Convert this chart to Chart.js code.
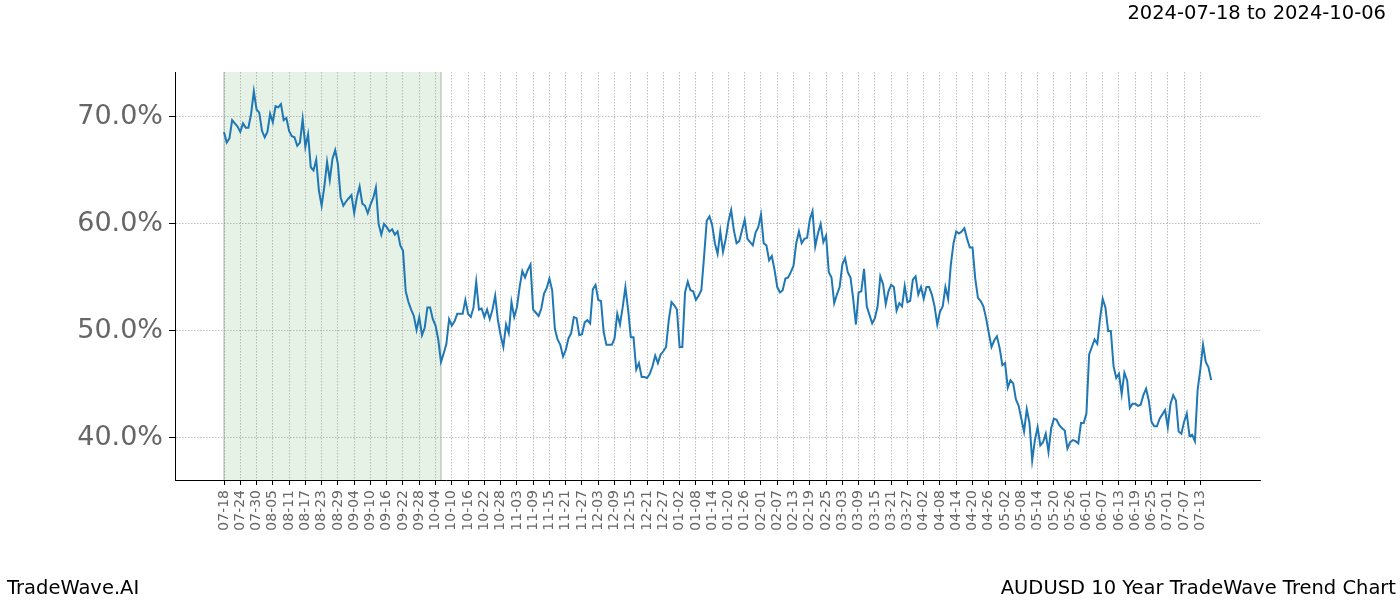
<!DOCTYPE html>
<html>
<head>
<meta charset="utf-8">
<script src="https://cdn.jsdelivr.net/npm/chart.js@4.4.1/dist/chart.umd.min.js"></script>
<style>
html,body{margin:0;padding:0;background:#ffffff;}
canvas{display:block;}
</style>
</head>
<body>
<canvas id="chart" width="1400" height="600"></canvas>
<script>
// ---- Data ----
// x = day offset from 2024-07-18, one value per calendar day
const tickDays = [0,6,12,18,24,30,36,42,48,54,60,66,72,78,84,90,96,102,108,114,120,126,132,138,144,150,156,162,168,174,180,186,192,198,204,210,216,222,228,234,240,246,252,258,264,270,276,282,288,294,300,306,312,318,324,330,336,342,348,354,360];
const tickLabels = ['07-18','07-24','07-30','08-05','08-11','08-17','08-23','08-29','09-04','09-10','09-16','09-22','09-28','10-04','10-10','10-16','10-22','10-28','11-03','11-09','11-15','11-21','11-27','12-03','12-09','12-15','12-21','12-27','01-02','01-08','01-14','01-20','01-26','02-01','02-07','02-13','02-19','02-25','03-03','03-09','03-15','03-21','03-27','04-02','04-08','04-14','04-20','04-26','05-02','05-08','05-14','05-20','05-26','06-01','06-07','06-13','06-19','06-25','07-01','07-07','07-13'];
const yTicks = [40, 50, 60, 70];

const trendValues = [
  68.6,67.6,68.0,69.7,69.4,69.1,68.6,69.4,69.0,69.0,
  70.3,72.4,70.7,70.4,68.7,68.1,68.6,70.3,69.5,71.0,
  70.9,71.2,69.7,69.9,68.7,68.2,68.1,67.3,67.6,69.8,
  67.2,68.4,65.3,65.0,66.0,63.1,61.7,63.5,65.8,64.1,
  66.1,66.9,65.6,62.5,61.7,62.1,62.4,62.7,61.0,62.5,
  63.5,61.9,61.7,61.0,61.8,62.4,63.4,60.0,59.0,60.0,
  59.7,59.3,59.5,59.0,59.3,58.0,57.5,53.7,52.7,52.0,
  51.4,50.1,51.3,49.6,50.3,52.2,52.2,51.1,50.5,49.2,
  47.1,47.9,48.8,51.1,50.5,50.9,51.6,51.6,51.6,52.9,
  51.6,51.3,52.2,54.6,52.0,52.1,51.3,52.0,51.1,52.0,
  53.3,51.0,49.6,48.5,50.6,49.8,52.7,51.3,52.2,54.1,
  55.6,55.0,55.7,56.2,52.0,51.7,51.4,52.1,53.5,54.0,
  54.9,53.8,50.2,49.2,48.7,47.6,48.2,49.3,49.8,51.3,
  51.2,49.6,49.7,50.8,51.0,50.7,53.9,54.3,52.9,52.8,
  49.9,48.7,48.7,48.7,49.3,51.6,50.6,52.2,54.1,52.0,
  49.4,49.4,46.4,47.0,45.7,45.7,45.6,46.0,46.7,47.7,
  47.0,47.8,48.1,48.5,51.0,52.7,52.4,52.0,48.5,48.5,
  53.6,54.6,53.8,53.7,52.9,53.3,53.8,56.9,60.3,60.7,
  59.9,58.2,57.2,59.3,57.4,58.6,60.2,61.3,59.4,58.2,
  58.4,59.4,60.4,58.6,58.3,58.0,59.2,59.7,60.9,58.2,
  58.0,56.6,57.0,55.7,54.1,53.6,53.8,54.9,55.0,55.5,
  56.1,58.2,59.3,58.2,58.6,58.7,60.4,61.2,57.9,59.1,
  60.0,58.3,58.9,55.5,55.0,52.6,53.4,54.1,56.2,56.8,
  55.5,55.0,53.0,50.6,53.6,53.7,55.8,52.3,51.5,50.7,
  51.2,52.3,55.1,54.4,52.5,53.7,54.3,54.1,51.9,52.6,
  52.3,54.2,52.7,52.8,54.8,55.1,53.4,54.1,53.0,54.1,
  54.1,53.4,52.3,50.6,51.8,52.3,54.1,53.0,56.2,58.2,
  59.3,59.1,59.3,59.6,58.6,57.8,57.8,54.9,53.1,52.8,
  52.3,51.2,49.8,48.5,49.1,49.5,48.4,46.8,47.0,44.7,
  45.4,45.1,43.6,43.0,41.8,40.6,42.7,41.4,37.9,39.8,
  41.0,39.3,39.6,40.4,38.7,40.9,41.8,41.7,41.2,40.9,
  40.7,39.0,39.6,39.8,39.7,39.5,41.4,41.4,42.3,47.8,
  48.5,49.2,48.8,51.1,53.0,52.2,50.0,50.0,46.7,45.6,
  46.0,44.1,46.1,45.4,42.8,43.2,43.2,43.0,43.1,44.0,
  44.6,43.5,41.5,41.1,41.1,41.8,42.2,42.6,41.0,43.2,
  44.0,43.5,40.6,40.4,41.5,42.3,40.2,40.3,39.7,44.5,
  46.4,48.7,47.1,46.6,45.4
];

const highlightStartDay = 0;   // 2024-07-18
const highlightEndDay = 80;    // 2024-10-06
const titleText = '2024-07-18 to 2024-10-06';
const footerLeft = 'TradeWave.AI';
const footerRight = 'AUDUSD 10 Year TradeWave Trend Chart';

const FONT = '"DejaVu Sans", "Liberation Sans", sans-serif';

const highlightPlugin = {
  id: 'highlight',
  beforeDraw(chart) {
    const {ctx, chartArea, scales} = chart;
    const x0 = scales.x.getPixelForValue(highlightStartDay);
    const x1 = scales.x.getPixelForValue(highlightEndDay);
    ctx.save();
    ctx.fillStyle = 'rgba(0,128,0,0.1)';
    ctx.fillRect(x0, chartArea.top, x1 - x0, chartArea.bottom - chartArea.top);
    ctx.strokeStyle = 'rgba(90,120,90,0.25)';
    ctx.lineWidth = 2;
    ctx.beginPath();
    ctx.moveTo(x0, chartArea.top); ctx.lineTo(x0, chartArea.bottom);
    ctx.moveTo(x1, chartArea.top); ctx.lineTo(x1, chartArea.bottom);
    ctx.stroke();
    ctx.restore();
  }
};

const textPlugin = {
  id: 'texts',
  afterDraw(chart) {
    const ctx = chart.ctx;
    ctx.save();
    ctx.fillStyle = '#000';
    ctx.font = '19.5px ' + FONT;
    ctx.textBaseline = 'alphabetic';
    ctx.textAlign = 'right';
    ctx.fillText(titleText, 1386, 19);
    ctx.textAlign = 'left';
    ctx.fillText(footerLeft, 7, 594);
    ctx.textAlign = 'right';
    ctx.fillText(footerRight, 1396, 594);
    ctx.restore();
  }
};

new Chart(document.getElementById('chart'), {
  type: 'line',
  data: {
    datasets: [{
      data: trendValues.map((v, i) => ({x: i, y: v})),
      borderColor: '#1f77b4',
      borderWidth: 2,
      pointRadius: 0,
      tension: 0,
      fill: false
    }]
  },
  options: {
    responsive: false,
    animation: false,
    devicePixelRatio: 1,
    layout: {padding: {top: 72, right: 140, left: 0, bottom: 0}},
    plugins: {legend: {display: false}, tooltip: {enabled: false}},
    scales: {
      x: {
        type: 'linear',
        min: -18.07,
        max: 382,
        afterBuildTicks: (scale) => { scale.ticks = tickDays.map(v => ({value: v})); },
        afterFit: (scale) => { scale.height = 120; },
        ticks: {
          autoSkip: false,
          maxRotation: 90,
          minRotation: 90,
          padding: 5,
          color: '#666',
          font: {family: FONT, size: 14},
          callback: (value, index) => tickLabels[index]
        },
        grid: {
          color: 'rgba(150,150,150,0.75)',
          lineWidth: 0.8,
          drawTicks: true,
          tickLength: 5,
          tickColor: '#000',
          tickWidth: 1
        },
        border: {display: true, color: '#000', width: 1, dash: [1.5, 1.5]}
      },
      y: {
        type: 'linear',
        min: 36.07,
        max: 74.2,
        afterBuildTicks: (scale) => { scale.ticks = yTicks.map(v => ({value: v})); },
        afterFit: (scale) => { scale.width = 175; },
        ticks: {
          padding: 6,
          color: '#666',
          font: {family: FONT, size: 27},
          callback: (value) => value.toFixed(1) + '%'
        },
        grid: {
          color: 'rgba(150,150,150,0.75)',
          lineWidth: 0.8,
          drawTicks: true,
          tickLength: 6,
          tickColor: '#000',
          tickWidth: 1
        },
        border: {display: true, color: '#000', width: 1, dash: [1.5, 1.5]}
      }
    }
  },
  plugins: [highlightPlugin, textPlugin]
});
</script>
</body>
</html>
